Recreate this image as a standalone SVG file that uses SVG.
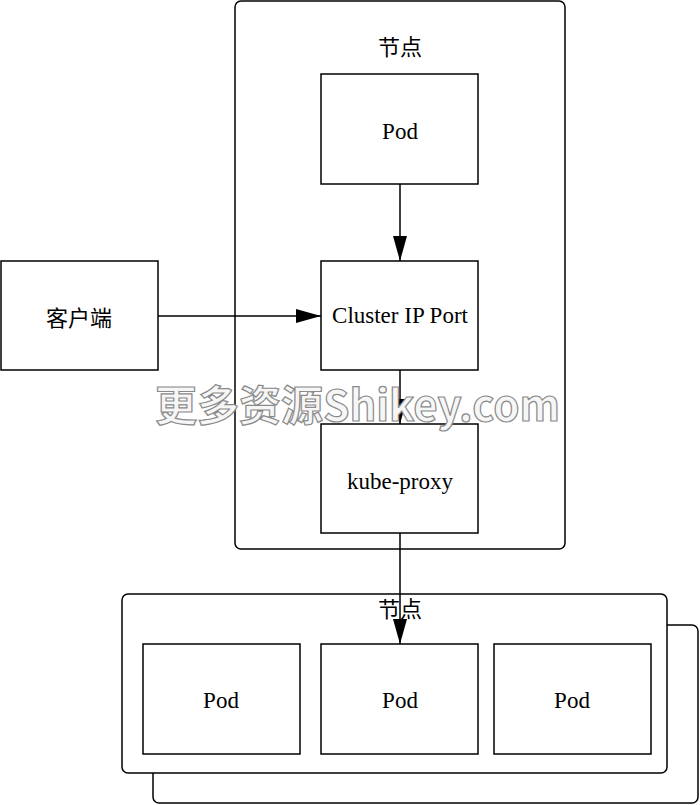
<svg xmlns="http://www.w3.org/2000/svg" width="700" height="805" viewBox="0 0 700 805">
<style>
.box{fill:#fff;stroke:#000;stroke-width:1.5}
.frame{fill:#fff;stroke:#000;stroke-width:1.5}
.lbl{font-family:"Liberation Serif","Noto Sans CJK SC",serif;font-size:23px;fill:#000;text-anchor:middle;dominant-baseline:central}
.cn{font-family:"Noto Sans CJK SC","Liberation Serif",sans-serif;font-size:22px;fill:#000;text-anchor:middle;dominant-baseline:central}
.edge{fill:none;stroke:#000;stroke-width:1.5}
.wm{font-family:"Noto Sans CJK SC","Liberation Sans",sans-serif;font-size:42px;font-weight:bold;fill:#f6f6f6;stroke:#8a8a8a;stroke-width:1.2}
</style>
<defs>
<marker id="arr" markerUnits="userSpaceOnUse" markerWidth="26" markerHeight="16" refX="25" refY="7" orient="auto">
<path d="M0,0 L25,7 L0,14 Z" fill="#000"/>
</marker>
</defs>
<rect width="700" height="805" fill="#fff"/>
<g id="node-frame-top">
<rect class="frame" x="235" y="1" width="330" height="548" rx="6"/>
<text class="cn" x="400" y="45">节点</text>
</g>
<g id="node-frame-bottom-back">
<rect class="frame" x="153" y="625" width="545" height="178" rx="6"/>
</g>
<g id="node-frame-bottom">
<rect class="frame" x="122" y="594" width="545" height="179" rx="6"/>
<text class="cn" x="400" y="607">节点</text>
</g>
<g id="pod-top">
<rect class="box" x="321" y="74" width="157" height="110"/>
<text class="lbl" x="400" y="131">Pod</text>
</g>
<g id="client">
<rect class="box" x="1" y="261" width="157" height="109"/>
<text class="cn" x="79" y="316">客户端</text>
</g>
<g id="cluster-ip-port">
<rect class="box" x="321" y="261" width="157" height="109"/>
<text class="lbl" x="400" y="315">Cluster IP Port</text>
</g>
<g id="kube-proxy">
<rect class="box" x="321" y="424" width="157" height="109"/>
<text class="lbl" x="400" y="481">kube-proxy</text>
</g>
<g id="pod-1">
<rect class="box" x="143" y="644" width="157" height="110"/>
<text class="lbl" x="221" y="700">Pod</text>
</g>
<g id="pod-2">
<rect class="box" x="321" y="644" width="157" height="110"/>
<text class="lbl" x="400" y="700">Pod</text>
</g>
<g id="pod-3">
<rect class="box" x="494" y="644" width="157" height="110"/>
<text class="lbl" x="572" y="700">Pod</text>
</g>
<g id="connectors">
<line class="edge" x1="400" y1="184" x2="400" y2="261" marker-end="url(#arr)"/>
<line class="edge" x1="158" y1="316" x2="321" y2="316" marker-end="url(#arr)"/>
<line class="edge" x1="400" y1="370" x2="400" y2="424" marker-end="url(#arr)"/>
<line class="edge" x1="400" y1="533" x2="400" y2="644" marker-end="url(#arr)"/>
</g>
<text class="wm" x="155" y="421" textLength="405" lengthAdjust="spacing">更多资源Shikey.com</text>
</svg>
